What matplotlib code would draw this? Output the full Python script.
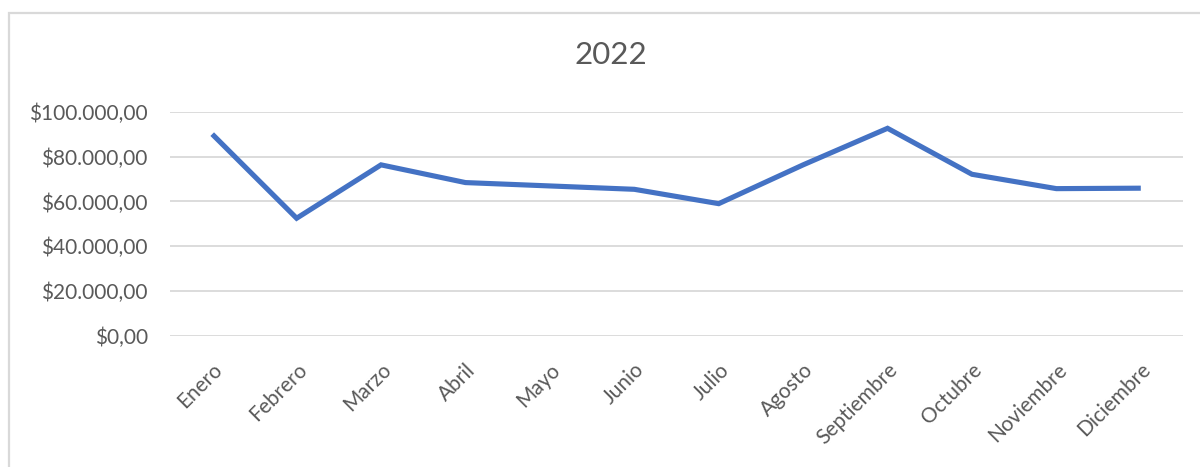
import matplotlib
matplotlib.use("Agg")
import matplotlib.pyplot as plt
from matplotlib.patches import Rectangle
from matplotlib.ticker import FuncFormatter

months = ["Enero", "Febrero", "Marzo", "Abril", "Mayo", "Junio", "Julio",
          "Agosto", "Septiembre", "Octubre", "Noviembre", "Diciembre"]
values = [90000, 52500, 76300, 68400, 66900, 65400, 59000,
          76300, 92600, 72100, 65700, 65900]
title = "2022"
y_ticks = [0, 20000, 40000, 60000, 80000, 100000]

plt.rcParams['font.family'] = ['Lato', 'DejaVu Sans']

W, H = 1200, 467
fig = plt.figure(figsize=(W / 100, H / 100), dpi=100)
fig.patch.set_facecolor("white")

# chart-area border (extends beyond right/bottom edge)
fig.patches.append(Rectangle((8.5 / W, -0.1), 1.2, 1 - 12.7 / H + 0.1,
                             transform=fig.transFigure, fill=False,
                             edgecolor="#D9D9D9", linewidth=1.6))

left, right = 170 / W, 1183 / W
bottom, top = 1 - 336 / H, 1 - 111.7 / H
ax = fig.add_axes([left, bottom, right - left, top - bottom])

x = list(range(len(months)))
ax.plot(x, values, color="#4472C4", linewidth=3.7, solid_capstyle="butt",
        solid_joinstyle="miter", zorder=3)

ax.set_xlim(-0.5, len(months) - 0.5)
ax.set_ylim(0, 100000)
ax.set_yticks(y_ticks)
ax.yaxis.set_major_formatter(FuncFormatter(
    lambda v, p: "$" + f"{v:,.2f}".replace(",", "X").replace(".", ",").replace("X", ".")))
ax.grid(axis="y", color="#D9D9D9", linewidth=1.3, zorder=0)
ax.set_axisbelow(True)
for s in ax.spines.values():
    s.set_visible(False)

ax.set_xticks(x)
ax.set_xticklabels(months, rotation=45, ha="right", va="top",
                   rotation_mode="anchor")
ax.tick_params(axis="x", length=0, pad=17, labelsize=15, labelcolor="#595959")
ax.tick_params(axis="y", length=0, pad=16, labelsize=15, labelcolor="#595959")

fig.text(611 / W, 1 - 55 / H, title, ha="center", va="center",
         fontsize=22.5, color="#595959")

fig.savefig("out.png", dpi=100, facecolor="white")
